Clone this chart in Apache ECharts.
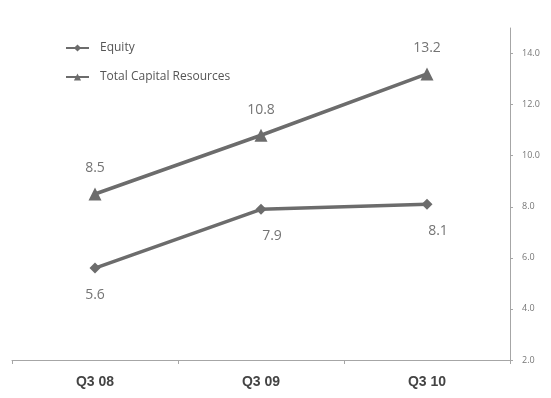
<!DOCTYPE html>
<html>
<head>
<meta charset="utf-8">
<script src="https://cdn.jsdelivr.net/npm/echarts@6/dist/echarts.min.js"></script>
<style>
  html, body { margin: 0; padding: 0; background: #fff; }
  #chart { width: 551px; height: 398px; }
</style>
</head>
<body>
<div id="chart"></div>
<script>
// Quarterly figures
const quarters = ['Q3 08', 'Q3 09', 'Q3 10'];
const equity = [5.6, 7.9, 8.1];
const totalCapitalResources = [8.5, 10.8, 13.2];
const yTicks = [2, 4, 6, 8, 10, 12, 14];

const lineColor = '#6c6c6c';
const labelFont = '"Open Sans", "Noto Sans", sans-serif';

const chart = echarts.init(document.getElementById('chart'));
chart.setOption({
  animation: false,
  backgroundColor: '#ffffff',
  grid: { left: 12, right: 41, top: 28, bottom: 38 },
  legend: {
    orient: 'vertical',
    left: 60,
    top: 37,
    itemWidth: 23,
    itemHeight: 9,
    itemGap: 17,
    data: ['Equity', 'Total Capital Resources'],
    textStyle: {
      color: '#555555',
      fontSize: 12,
      fontFamily: labelFont,
      padding: [0, 0, 0, 6]
    }
  },
  xAxis: {
    type: 'category',
    data: quarters,
    boundaryGap: true,
    axisLine: { lineStyle: { color: '#a6a6a6', width: 1 } },
    axisTick: { show: true, length: 4, lineStyle: { color: '#a6a6a6' } },
    axisLabel: {
      color: '#444444',
      fontSize: 14,
      fontWeight: 'bold',
      fontFamily: '"Liberation Sans Narrow", "Liberation Sans", Arial, sans-serif',
      margin: 15
    }
  },
  yAxis: {
    type: 'value',
    position: 'right',
    min: 2,
    max: 15,
    interval: 2,
    splitLine: { show: false },
    axisLine: { show: true, lineStyle: { color: '#a6a6a6', width: 1 } },
    axisTick: {
      show: true, length: 3, inside: false,
      customValues: yTicks,
      lineStyle: { color: '#a6a6a6' }
    },
    axisLabel: {
      customValues: yTicks,
      color: '#777777',
      fontSize: 9,
      fontFamily: labelFont,
      margin: 12,
      formatter: v => v.toFixed(1)
    }
  },
  series: [
    {
      name: 'Equity',
      type: 'line',
      data: equity,
      symbol: 'diamond',
      symbolSize: 11,
      color: lineColor,
      lineStyle: { color: lineColor, width: 3.5 },
      itemStyle: { color: lineColor },
      label: {
        show: true,
        position: 'bottom',
        distance: 14,
        color: '#747474',
        fontSize: 14,
        fontFamily: labelFont,
        formatter: p => p.value.toFixed(1)
      },
      labelLayout: p => (p.dataIndex === 0 ? {} : { dx: 11 })
    },
    {
      name: 'Total Capital Resources',
      type: 'line',
      data: totalCapitalResources,
      symbol: 'triangle',
      symbolSize: 13,
      color: lineColor,
      lineStyle: { color: lineColor, width: 3.5 },
      itemStyle: { color: lineColor },
      label: {
        show: true,
        position: 'top',
        distance: 12,
        color: '#747474',
        fontSize: 14,
        fontFamily: labelFont,
        formatter: p => p.value.toFixed(1)
      }
    }
  ]
});
</script>
</body>
</html>
